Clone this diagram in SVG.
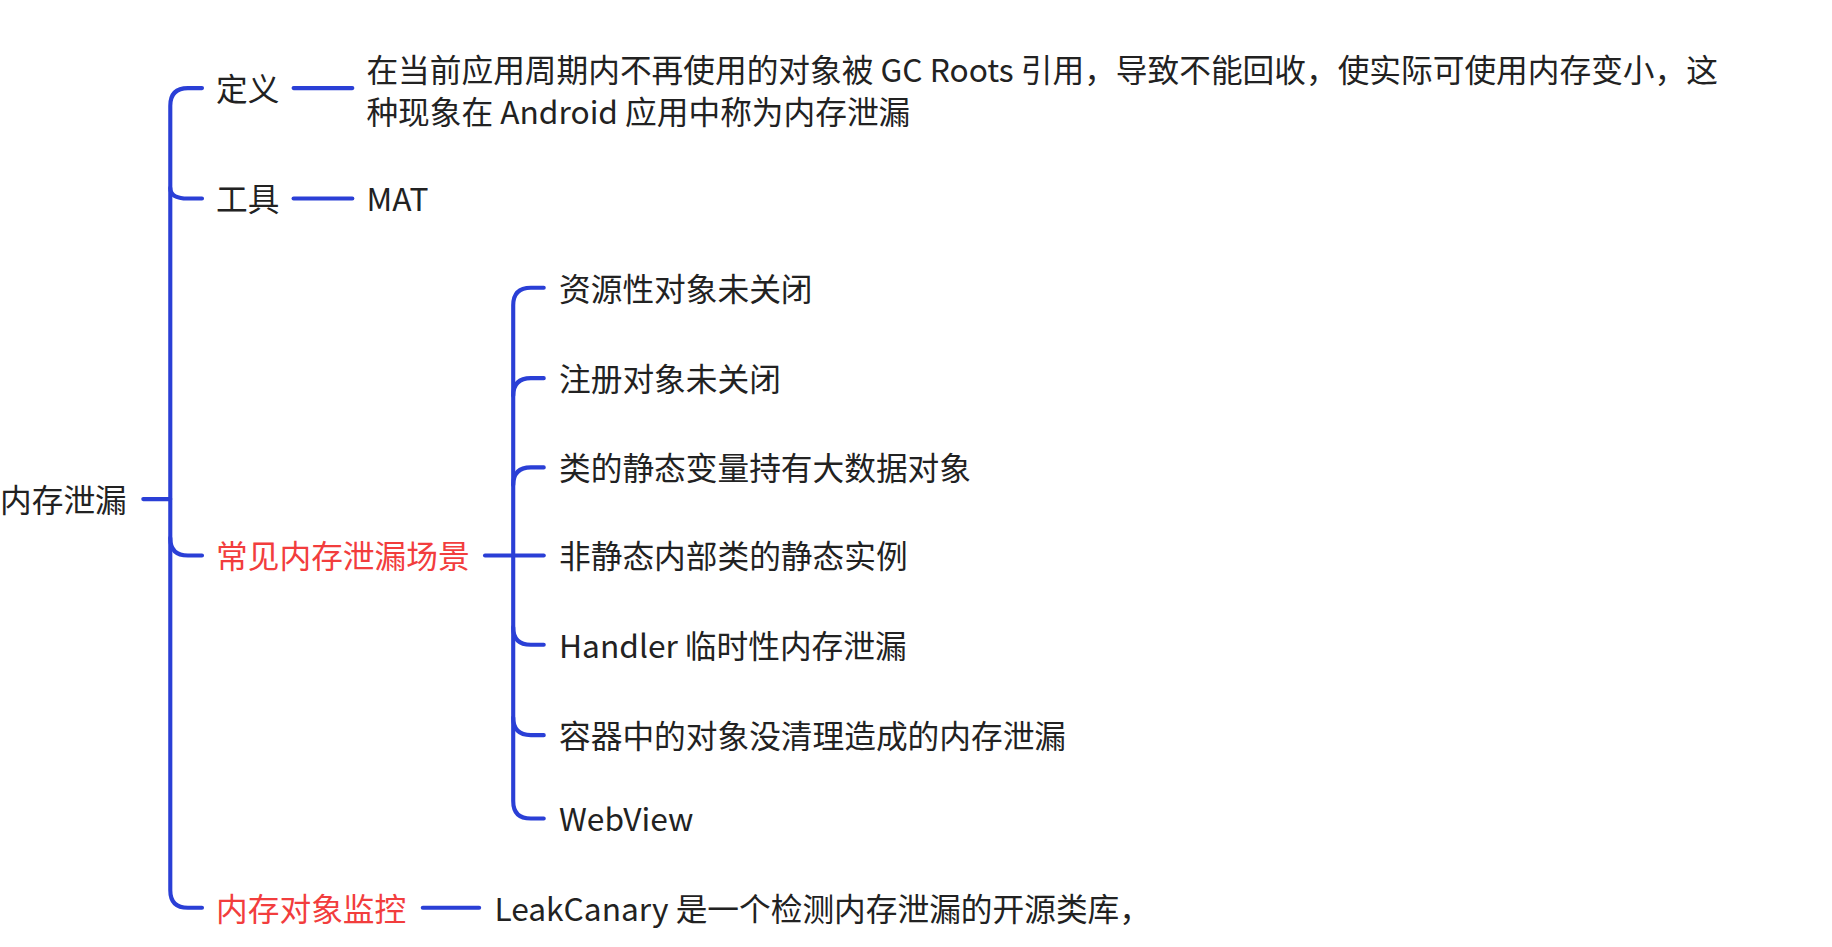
<svg xmlns="http://www.w3.org/2000/svg" width="1832" height="947" viewBox="0 0 1832 947">
<style>
text{font-family:"Noto Sans CJK SC","Noto Sans",sans-serif;font-size:27px;fill:#222;dominant-baseline:central}
.r{fill:#f23d3d}
.c path{fill:none;stroke:#2a3fd6;stroke-width:3.5;stroke-linecap:round}
</style>
<rect width="1832" height="947" fill="#fff"/>
<g transform="scale(1.1744)">
<g class="c" id="connectors">
<path d="M122 425H145"/>
<path d="M172 75H160Q145 75 145 90V758Q145 773 160 773H172"/>
<path d="M145 160Q145 169 160 169H172"/>
<path d="M145 458Q145 473 160 473H172"/>
<path d="M250 75H300"/>
<path d="M250 169H300"/>
<path d="M413 473H437"/>
<path d="M360 773H408"/>
<path d="M463 245H452Q437 245 437 260V682Q437 697 452 697H463"/>
<path d="M437 337Q437 322 452 322H463"/>
<path d="M437 413Q437 398 452 398H463"/>
<path d="M437 473H463"/>
<path d="M437 534Q437 549 452 549H463"/>
<path d="M437 611Q437 626 452 626H463"/>
</g>
<g id="root"><text x="0" y="424">内存泄漏</text></g>
<g id="n-def"><text x="184" y="74">定义</text></g>
<g id="n-def-text"><text x="312" y="58">在当前应用周期内不再使用的对象被 GC Roots 引用，导致不能回收，使实际可使用内存变小，这</text><text x="312" y="94">种现象在 Android 应用中称为内存泄漏</text></g>
<g id="n-tool"><text x="184" y="168">工具</text></g>
<g id="n-mat"><text x="312" y="168">MAT</text></g>
<g id="n-scene"><text class="r" x="184" y="472">常见内存泄漏场景</text></g>
<g id="s1"><text x="476" y="244">资源性对象未关闭</text></g>
<g id="s2"><text x="476" y="321">注册对象未关闭</text></g>
<g id="s3"><text x="476" y="397">类的静态变量持有大数据对象</text></g>
<g id="s4"><text x="476" y="472">非静态内部类的静态实例</text></g>
<g id="s5"><text x="476" y="548">Handler 临时性内存泄漏</text></g>
<g id="s6"><text x="476" y="625">容器中的对象没清理造成的内存泄漏</text></g>
<g id="s7"><text x="476" y="696">WebView</text></g>
<g id="n-mon"><text class="r" x="184" y="772">内存对象监控</text></g>
<g id="n-leak"><text x="421" y="772">LeakCanary 是一个检测内存泄漏的开源类库，</text></g>
</g>
</svg>
